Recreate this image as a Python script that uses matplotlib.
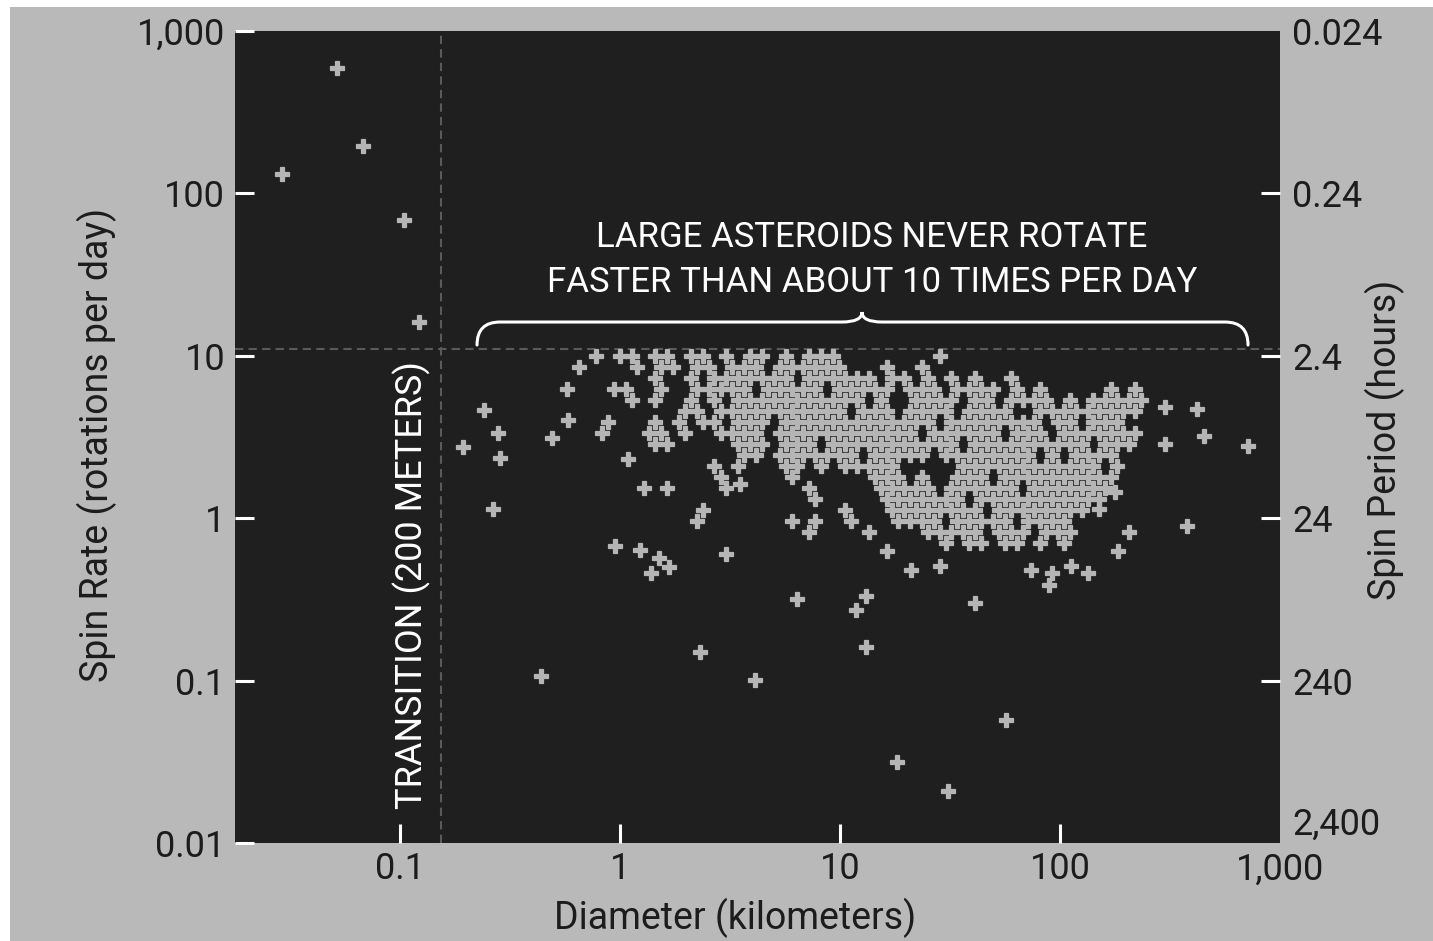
import matplotlib
matplotlib.use("Agg")
import matplotlib.pyplot as plt
from matplotlib.path import Path
from matplotlib.patches import PathPatch, Rectangle
from matplotlib.ticker import NullLocator


# ============================================
# Asteroid spin rate vs. diameter
# values
# ============================================

# fast rotators smaller than the transition size
small_diameter_km = [0.029, 0.052, 0.068, 0.104, 0.122]
small_spin_rate = [131, 591, 195, 69, 16.2]

# the main cloud, read row by row: one spin rate per row
row_spin_rate = [10.0, 8.55, 7.31, 6.25, 5.35, 4.57, 3.91, 3.35, 2.86,
                 2.45, 2.09, 1.79, 1.53, 1.31, 1.12, 0.96, 0.82, 0.70]

row_diameter_km = [
    [0.78, 1.0, 1.13, 1.45, 1.64, 2.10, 2.38, 3.05, 3.91, 4.42, 5.67, 7.26,
     8.22, 9.31, 28.4],
    [0.65, 1.20, 1.54, 1.75, 2.24, 2.53, 3.24, 3.67, 4.16, 5.33, 6.03, 6.82,
     7.73, 8.74, 9.9, 16.3, 23.6],
    [1.45, 2.10, 2.69, 3.05, 3.45, 3.91, 4.42, 5.01, 5.67, 7.26, 8.22, 9.31,
     10.5, 11.9, 13.5, 17.3, 19.6, 25.1, 32.1, 41.2, 59.7],
    [0.94, 1.06, 1.54, 2.24, 2.53, 2.87, 3.24, 3.67, 4.71, 5.33, 6.03, 6.82,
     7.73, 9.9, 11.2, 12.7, 14.4, 16.3, 20.8, 23.6, 26.7, 34.2,
     38.7, 43.8, 49.5, 63.5, 81.3, 171, 219],
    [1.13, 1.45, 2.10, 2.69, 3.45, 3.91, 4.42, 5.01, 5.67, 6.41, 7.26, 8.22,
     9.31, 10.5, 11.9, 15.3, 22.1, 25.1, 28.4, 32.1, 41.2, 46.6,
     59.7, 67.6, 76.4, 86.5, 111, 142, 161, 182, 206, 233],
    [1.98, 2.24, 2.87, 3.24, 3.67, 4.16, 4.71, 5.33, 6.03, 6.82, 7.73, 8.74,
     9.9, 12.7, 14.4, 16.3, 20.8, 23.6, 26.7, 30.2, 38.7, 43.8, 49.5,
     56.1, 81.3, 92.1, 104, 118, 134, 151, 171, 194, 219],
    [0.88, 1.45, 1.86, 2.38, 2.69, 3.45, 3.91, 4.42, 5.67, 6.41, 7.26, 8.22,
     9.31, 10.5, 11.9, 13.5, 15.3, 17.3, 19.6, 22.1, 25.1, 32.1, 36.4,
     41.2, 46.6, 52.7, 59.7, 67.6, 76.4, 98, 111, 142, 161, 182],
    [0.83, 1.36, 1.54, 1.98, 2.87, 3.24, 3.67, 4.16, 5.33, 6.03, 6.82, 7.73,
     8.74, 9.9, 11.2, 12.7, 14.4, 16.3, 18.4, 20.8, 26.7, 30.2, 34.2,
     38.7, 43.8, 49.5, 63.5, 71.9, 81.3, 104, 118, 134, 151, 171, 194,
     219],
    [1.45, 1.64, 3.45, 3.91, 4.42, 5.67, 6.41, 7.26, 9.31, 10.5, 11.9, 13.5,
     15.3, 17.3, 19.6, 22.1, 25.1, 28.4, 32.1, 41.2, 46.6, 52.7, 59.7,
     67.6, 76.4, 86.5, 98, 111, 126, 161, 182, 206],
    [3.67, 4.16, 5.33, 6.03, 6.82, 7.73, 8.74, 9.9, 11.2, 14.4, 16.3, 18.4,
     20.8, 23.6, 30.2, 34.2, 38.7, 43.8, 49.5, 56.1, 63.5, 71.9, 92.1,
     118, 134, 151, 171],
    [2.69, 3.45, 5.67, 6.41, 8.22, 10.5, 11.9, 13.5, 15.3, 17.3, 36.4, 41.2,
     46.6, 52.7, 59.7, 67.6, 76.4, 86.5, 98, 111, 126, 142, 182],
    [2.87, 6.03, 14.4, 16.3, 18.4, 23.6, 34.2, 38.7, 43.8, 56.1, 63.5,
     71.9, 81.3, 92.1, 104, 118, 134, 151, 171],
    [1.28, 1.64, 3.05, 7.26, 15.3, 17.3, 19.6, 22.1, 25.1, 32.1, 36.4,
     41.2, 46.6, 52.7, 59.7, 76.4, 86.5, 98, 111, 126, 142, 161],
    [7.73, 16.3, 18.4, 20.8, 23.6, 26.7, 30.2, 34.2, 43.8, 49.5, 56.1,
     63.5, 71.9, 81.3, 92.1, 104, 118, 134, 151],
    [2.38, 10.5, 17.3, 19.6, 22.1, 25.1, 28.4, 32.1, 36.4, 41.2, 52.7,
     59.7, 67.6, 76.4, 86.5, 98, 111, 126],
    [2.24, 6.03, 7.73, 11.2, 18.4, 20.8, 23.6, 26.7, 34.2, 38.7, 43.8,
     49.5, 56.1, 71.9, 81.3, 92.1, 104],
    [7.26, 13.5, 25.1, 28.4, 32.1, 36.4, 41.2, 52.7, 59.7, 67.6,
     86.5, 98, 111, 206],
    [30.2, 38.7, 43.8, 56.1, 63.5, 81.3, 104],
]

# scattered asteroids around the cloud
sparse_diameter_km = [0.194, 0.240, 0.278, 0.284, 0.264, 0.491, 0.573, 0.58,
                      0.438, 0.95, 1.23, 1.51, 1.67, 1.39, 1.09, 2.31, 4.11,
                      3.05, 3.52, 6.35, 11.8, 13.2, 13.1, 18.2, 31.1, 56.6,
                      41.1, 28.6, 378, 719, 452, 420, 299, 299, 184, 134, 89,
                      92, 74, 112, 16.4, 21, 150, 178]
sparse_spin_rate = [2.74, 4.64, 3.35, 2.35, 1.14, 3.12, 6.26, 4.0,
                    0.106, 0.67, 0.64, 0.57, 0.50, 0.46, 2.31, 0.151, 0.101,
                    0.60, 1.62, 0.316, 0.274, 0.33, 0.16, 0.0316, 0.021, 0.057,
                    0.30, 0.51, 0.89, 2.78, 3.21, 4.71, 2.86, 4.85, 0.63, 0.46,
                    0.39, 0.46, 0.48, 0.51, 0.63, 0.48, 1.14, 1.45]

x_ticks = [0.1, 1, 10, 100, 1000]
x_tick_labels = ["0.1", "1", "10", "100", "1,000"]
y_ticks = [0.01, 0.1, 1, 10, 100, 1000]
y_tick_labels = ["0.01", "0.1", "1", "10", "100", "1,000"]
period_tick_labels = ["2,400", "240", "24", "2.4", "0.24", "0.024"]

transition_km = 0.153
rate_limit = 11.0

BG = "#b9b9b9"
PANEL = "#1f1f1f"
POINT = "#b5b5b5"
INK = "#1c1c1c"
TICK_FONT = ["Roboto", "DejaVu Sans"]
LABEL_FONT = ["Roboto", "DejaVu Sans"]


def all_points():
    d, r = [], []
    for rate, row in zip(row_spin_rate, row_diameter_km):
        d.extend(row)
        r.extend([rate] * len(row))
    d.extend(small_diameter_km + sparse_diameter_km)
    r.extend(small_spin_rate + sparse_spin_rate)
    return d, r


def draw_brace(ax):
    # curly brace over the cloud, in axes fractions
    verts = [(0.2316, 0.6133), (0.2316, 0.6416), (0.2536, 0.6416),
             (0.5809, 0.6416),
             (0.6000, 0.6416), (0.6000, 0.6539),
             (0.6000, 0.6416), (0.6191, 0.6416),
             (0.9474, 0.6416),
             (0.9694, 0.6416), (0.9694, 0.6133)]
    codes = [Path.MOVETO, Path.CURVE3, Path.CURVE3, Path.LINETO,
             Path.CURVE3, Path.CURVE3, Path.CURVE3, Path.CURVE3,
             Path.LINETO, Path.CURVE3, Path.CURVE3]
    patch = PathPatch(Path(verts, codes), transform=ax.transAxes,
                      facecolor="none", edgecolor="white", lw=2.2,
                      capstyle="round", zorder=5)
    ax.add_patch(patch)


def main() -> None:
    fig = plt.figure(figsize=(14.33, 9.41), dpi=100, facecolor=BG)
    # thin white margin on the top and left of the original scan
    fig.patches.append(Rectangle((0, 0), 10 / 1433, 1, transform=fig.transFigure,
                                 facecolor="white", edgecolor="none"))
    fig.patches.append(Rectangle((0, 1 - 7 / 941), 1, 7 / 941,
                                 transform=fig.transFigure,
                                 facecolor="white", edgecolor="none"))

    ax = fig.add_axes([235 / 1433, 98 / 941, 1045 / 1433, 812 / 941])
    ax.set_facecolor(PANEL)
    ax.set_xscale("log")
    ax.set_yscale("log")
    ax.set_xlim(0.0178, 1000)
    ax.set_ylim(0.01, 1000)
    for s in ax.spines.values():
        s.set_visible(False)

    ax.axvline(transition_km, color="#5a5a5a", lw=1.5, dashes=(4, 2.5), zorder=1)
    ax.axhline(rate_limit, color="#5a5a5a", lw=1.5, dashes=(4, 2.5), zorder=1)

    d, r = all_points()
    ax.plot(d, r, linestyle="none", marker="P", ms=10, color=POINT,
            mec=POINT, mew=0.9, zorder=3)

    # ticks
    ax.set_xticks(x_ticks, x_tick_labels)
    ax.set_yticks(y_ticks, y_tick_labels)
    ax.xaxis.set_minor_locator(NullLocator())
    ax.yaxis.set_minor_locator(NullLocator())
    ax.tick_params(axis="both", direction="in", length=14, width=2.2,
                   color="white", labelcolor=INK, labelsize=26)
    ax.tick_params(axis="y", pad=7)
    ax.tick_params(axis="x", pad=6)
    for lab in ax.get_xticklabels() + ax.get_yticklabels():
        lab.set_family(TICK_FONT)
    ax.xaxis.get_major_ticks()[-1].tick1line.set_visible(False)
    ax.yaxis.get_major_ticks()[0].tick1line.set_visible(False)
    ax.yaxis.get_major_ticks()[-1].tick1line.set_visible(False)

    ax2 = ax.twinx()
    ax2.set_yscale("log")
    ax2.set_ylim(ax.get_ylim())
    for s in ax2.spines.values():
        s.set_visible(False)
    ax2.set_yticks(y_ticks, period_tick_labels)
    ax2.yaxis.set_minor_locator(NullLocator())
    ax2.tick_params(axis="y", direction="in", length=14, width=2.2,
                    color="white", labelcolor=INK, labelsize=26, pad=9)
    for lab in ax2.get_yticklabels():
        lab.set_family(TICK_FONT)
    ax2.get_yticklabels()[0].set_verticalalignment("bottom")
    ax2.yaxis.get_major_ticks()[0].tick2line.set_visible(False)
    ax2.yaxis.get_major_ticks()[-1].tick2line.set_visible(False)

    # axis titles
    fig.text(97 / 1433, 1 - 445 / 941, "Spin Rate (rotations per day)",
             rotation=90, ha="center", va="center", fontsize=27,
             color=INK, family=LABEL_FONT)
    fig.text(735 / 1433, 1 - 918 / 941, "Diameter (kilometers)",
             ha="center", va="center", fontsize=27, color=INK,
             family=LABEL_FONT)
    fig.text(1385 / 1433, 1 - 440 / 941, "Spin Period (hours)",
             rotation=90, ha="center", va="center", fontsize=27,
             color=INK, family=LABEL_FONT)

    # annotations
    draw_brace(ax2)
    ax2.text(0.6096, 0.7463, "LARGE ASTEROIDS NEVER ROTATE",
             transform=ax2.transAxes, ha="center", va="center",
             fontsize=25, color="white", family=LABEL_FONT, zorder=6)
    ax2.text(0.6096, 0.6897, "FASTER THAN ABOUT 10 TIMES PER DAY",
             transform=ax2.transAxes, ha="center", va="center",
             fontsize=25, color="white", family=LABEL_FONT, zorder=6)
    ax2.text(0.1694, 0.3177, "TRANSITION (200 METERS)",
             transform=ax2.transAxes, rotation=90, ha="center", va="center",
             fontsize=26, color="white", family=LABEL_FONT, zorder=6)

    fig.savefig("out.png", dpi=100, facecolor=BG)


if __name__ == "__main__":
    main()
